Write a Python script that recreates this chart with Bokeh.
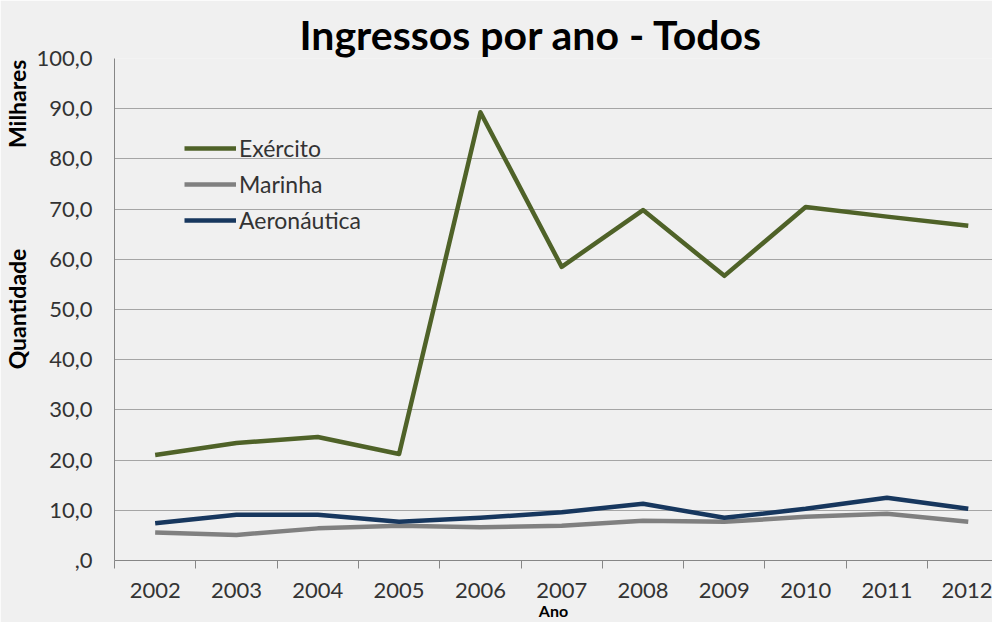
import math
from bokeh.plotting import figure
from bokeh.models import FixedTicker, Legend, LegendItem, Range1d, Title
from bokeh.embed import file_html
from bokeh.resources import INLINE

# ---- data ----
years = ["2002", "2003", "2004", "2005", "2006", "2007", "2008", "2009", "2010", "2011", "2012"]
exercito = [21.0, 23.4, 24.6, 21.2, 89.3, 58.5, 69.8, 56.7, 70.4, 68.5, 66.7]
marinha = [5.6, 5.1, 6.4, 6.9, 6.6, 6.9, 7.9, 7.7, 8.7, 9.3, 7.7]
aeronautica = [7.4, 9.1, 9.1, 7.7, 8.5, 9.6, 11.3, 8.5, 10.3, 12.5, 10.3]
series_names = ["Exército", "Marinha", "Aeronáutica"]
y_ticks = [0, 10, 20, 30, 40, 50, 60, 70, 80, 90, 100]
y_tick_labels = [",0", "10,0", "20,0", "30,0", "40,0", "50,0", "60,0", "70,0", "80,0", "90,0", "100,0"]
y_title = "Quantidade"
y_units = "Milhares"
x_title = "Ano"
chart_title = "Ingressos por ano - Todos"

FONT = "Lato"
BG = "#f0f0f0"
TXT = "#333333"
NBSP = "\u00a0"

x = [int(v) for v in years]

p = figure(width=992, height=622, output_backend="svg", toolbar_location=None,
           x_range=Range1d(2001.5, 2012.298), y_range=Range1d(0, 100),
           min_border_left=112, min_border_right=0, min_border_top=58, min_border_bottom=60)
p.background_fill_color = BG
p.border_fill_color = BG
p.outline_line_color = None

title = Title(text=chart_title, align="left", offset=185, standoff=0,
              text_font=FONT, text_font_size="41px", text_font_style="bold", text_color="black")
p.add_layout(title, "above")

colors = ["#4f6228", "#808080", "#17375e"]
renderers = []
for vals, col in zip([exercito, marinha, aeronautica], colors):
    r = p.line(x, vals, line_color=col, line_width=4.5, line_join="round")
    renderers.append(r)

# y axis
p.yaxis.ticker = FixedTicker(ticks=y_ticks)
p.yaxis.major_label_overrides = dict(zip(y_ticks, y_tick_labels))
p.yaxis.major_tick_line_color = None
p.yaxis.minor_tick_line_color = None
p.yaxis.major_tick_out = 0
p.yaxis.major_tick_in = 0
p.yaxis.major_label_standoff = 22
p.yaxis.axis_line_color = "#868686"
p.yaxis.major_label_text_font = FONT
p.yaxis.major_label_text_font_size = "22px"
p.yaxis.major_label_text_color = TXT
# one vertical label holding both "Quantidade" (centred) and "Milhares" (near the top)
p.yaxis.axis_label = NBSP * 34 + y_title + NBSP * 18 + y_units
p.yaxis.axis_label_text_font = FONT
p.yaxis.axis_label_text_font_size = "23px"
p.yaxis.axis_label_text_font_style = "bold"
p.yaxis.axis_label_text_color = "black"
p.yaxis.axis_label_standoff = 2

# x axis
p.xaxis.ticker = FixedTicker(ticks=x, minor_ticks=[v - 0.5 for v in x] + [x[-1] + 0.5])
p.xaxis.major_label_overrides = dict(zip(x, years))
p.xaxis.major_tick_line_color = None
p.xaxis.major_tick_out = 0
p.xaxis.major_tick_in = 0
p.xaxis.minor_tick_line_color = "#868686"
p.xaxis.minor_tick_out = 8
p.xaxis.minor_tick_in = 0
p.xaxis.axis_line_color = "#868686"
p.xaxis.major_label_standoff = 14
p.xaxis.major_label_text_font = FONT
p.xaxis.major_label_text_font_size = "22px"
p.xaxis.major_label_text_color = TXT
p.xaxis.axis_label = x_title
p.xaxis.axis_label_text_font = FONT
p.xaxis.axis_label_text_font_size = "16px"
p.xaxis.axis_label_text_font_style = "bold"
p.xaxis.axis_label_text_color = "black"
p.xaxis.axis_label_standoff = 0

p.xgrid.visible = False
p.ygrid.grid_line_color = "#a5a5a5"
p.ygrid.grid_line_width = 1

legend = Legend(items=[LegendItem(label=n, renderers=[r]) for n, r in zip(series_names, renderers)],
                location=(70, 322), orientation="vertical",
                label_text_font=FONT, label_text_font_size="23px", label_text_color=TXT,
                glyph_width=52, glyph_height=20, label_height=36, spacing=0, padding=0, margin=0,
                label_standoff=3, background_fill_alpha=0, border_line_color=None)
p.add_layout(legend)

open("out.html", "w").write(file_html(p, INLINE))
